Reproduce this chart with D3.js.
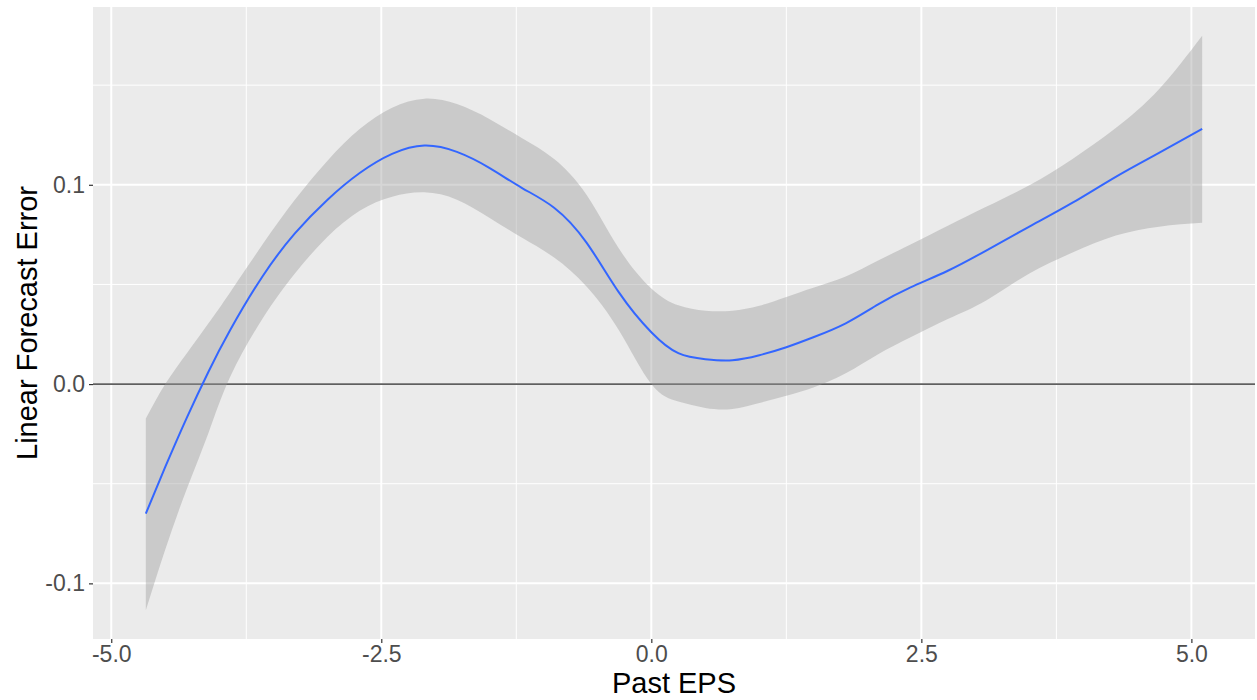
<!DOCTYPE html>
<html>
<head>
<meta charset="utf-8">
<script src="https://cdn.jsdelivr.net/npm/d3@7"></script>
<style>
  html, body { margin: 0; padding: 0; background: #ffffff; }
  svg { display: block; font-family: "Liberation Sans", Arial, Helvetica, sans-serif; }
</style>
</head>
<body>
<svg id="chart" width="1257" height="700"></svg>
<script>
// Smoothed fit of forecast error against past EPS, with its confidence band
const pastEps = [-4.68, -4.5, -4.3, -4.1, -3.9, -3.6, -3.3, -3.0, -2.7, -2.4, -2.1, -1.8, -1.5, -1.2,
                 -0.9, -0.6, -0.3, 0.0, 0.25, 0.5, 0.75, 1.0, 1.25, 1.5, 1.8, 2.1, 2.4, 2.75, 3.1,
                 3.5, 3.9, 4.3, 4.7, 5.1];
const fitValues = [-0.065, -0.0416, -0.0168, 0.0062, 0.027, 0.054, 0.0756, 0.0924, 0.1059, 0.1155,
                   0.1197, 0.1165, 0.1085, 0.0985, 0.0885, 0.071, 0.046, 0.026, 0.0155, 0.0125,
                   0.012, 0.0145, 0.0185, 0.0235, 0.0305, 0.040, 0.0485, 0.057, 0.067, 0.079,
                   0.091, 0.104, 0.116, 0.128];
const lowerBand = [-0.1135, -0.083, -0.0525, -0.0245, 0.0035, 0.0328, 0.0555, 0.0738, 0.087, 0.094,
                   0.0962, 0.0925, 0.0835, 0.0735, 0.0635, 0.049, 0.027, 0.0, -0.0088, -0.012,
                   -0.0125, -0.0095, -0.0058, -0.0017, 0.0054, 0.015, 0.0235, 0.0328, 0.042,
                   0.0555, 0.066, 0.0745, 0.079, 0.0809];
const upperBand = [-0.0173, 0.0, 0.0155, 0.0305, 0.046, 0.070, 0.0925, 0.112, 0.128, 0.1387,
                   0.1432, 0.1405, 0.133, 0.1235, 0.113, 0.095, 0.068, 0.048, 0.0395, 0.0368,
                   0.0368, 0.0393, 0.0437, 0.0484, 0.054, 0.062, 0.070, 0.0796, 0.089, 0.0998,
                   0.113, 0.1285, 0.148, 0.1748];

const xTicks = [-5.0, -2.5, 0.0, 2.5, 5.0];
const xMinor = [-3.75, -1.25, 1.25, 3.75];
const yTicks = [-0.1, 0.0, 0.1];
const yMinor = [-0.05, 0.05, 0.15];

const xTitle = "Past EPS";
const yTitle = "Linear Forecast Error";

const rows = pastEps.map((x, i) => ({ x, y: fitValues[i], lo: lowerBand[i], hi: upperBand[i] }));

const panel = { left: 93, right: 1255, top: 7, bottom: 639 };

// 5% expansion around the data range on both axes
const xExt = d3.extent(pastEps);
const xPad = (xExt[1] - xExt[0]) * 0.05;
const yMin = d3.min(lowerBand), yMax = d3.max(upperBand);
const yPad = (yMax - yMin) * 0.05;

const x = d3.scaleLinear().domain([xExt[0] - xPad, xExt[1] + xPad]).range([panel.left, panel.right]);
const y = d3.scaleLinear().domain([yMin - yPad, yMax + yPad]).range([panel.bottom, panel.top]);

const svg = d3.select("#chart");

// panel background
svg.append("rect")
  .attr("x", panel.left).attr("y", panel.top)
  .attr("width", panel.right - panel.left).attr("height", panel.bottom - panel.top)
  .attr("fill", "#EBEBEB");

const grid = svg.append("g");
// minor grid
grid.selectAll("line.vminor").data(xMinor).join("line")
  .attr("x1", d => x(d)).attr("x2", d => x(d))
  .attr("y1", panel.top).attr("y2", panel.bottom)
  .attr("stroke", "#ffffff").attr("stroke-width", 1);
grid.selectAll("line.hminor").data(yMinor).join("line")
  .attr("y1", d => y(d)).attr("y2", d => y(d))
  .attr("x1", panel.left).attr("x2", panel.right)
  .attr("stroke", "#ffffff").attr("stroke-width", 1);
// major grid
grid.selectAll("line.vmajor").data(xTicks).join("line")
  .attr("x1", d => x(d)).attr("x2", d => x(d))
  .attr("y1", panel.top).attr("y2", panel.bottom)
  .attr("stroke", "#ffffff").attr("stroke-width", 2);
grid.selectAll("line.hmajor").data(yTicks).join("line")
  .attr("y1", d => y(d)).attr("y2", d => y(d))
  .attr("x1", panel.left).attr("x2", panel.right)
  .attr("stroke", "#ffffff").attr("stroke-width", 2);

// zero reference line
svg.append("line")
  .attr("x1", panel.left).attr("x2", panel.right)
  .attr("y1", y(0)).attr("y2", y(0))
  .attr("stroke", "#5f5f5f").attr("stroke-width", 1.6);

// confidence band
const band = d3.area()
  .x(d => x(d.x)).y0(d => y(d.lo)).y1(d => y(d.hi))
  .curve(d3.curveNatural);
svg.append("path").datum(rows)
  .attr("d", band)
  .attr("fill", "#999999").attr("fill-opacity", 0.4);

// fitted line
const line = d3.line()
  .x(d => x(d.x)).y(d => y(d.y))
  .curve(d3.curveNatural);
svg.append("path").datum(rows)
  .attr("d", line)
  .attr("fill", "none").attr("stroke", "#3366FF").attr("stroke-width", 2);

// axes (plain hyphen-minus in the labels)
const fmt = v => d3.format(".1f")(v).replace("\u2212", "-");
const xAxis = svg.append("g")
  .attr("transform", `translate(0,${panel.bottom})`)
  .call(d3.axisBottom(x).tickValues(xTicks).tickFormat(fmt).tickSize(4).tickPadding(3));
const yAxis = svg.append("g")
  .attr("transform", `translate(${panel.left},0)`)
  .call(d3.axisLeft(y).tickValues(yTicks).tickFormat(fmt).tickSize(4).tickPadding(4));

[xAxis, yAxis].forEach(g => {
  g.select(".domain").remove();
  g.selectAll(".tick line").attr("stroke", "#333333").attr("stroke-width", 1.2);
  g.selectAll(".tick text")
    .attr("fill", "#4D4D4D")
    .style("font-size", "23px")
    .style("font-family", '"Liberation Sans", Arial, Helvetica, sans-serif');
});

// axis titles
svg.append("text")
  .attr("x", (panel.left + panel.right) / 2).attr("y", 693)
  .attr("text-anchor", "middle")
  .attr("fill", "#000000")
  .style("font-size", "29px")
  .text(xTitle);
svg.append("text")
  .attr("transform", `translate(37,${(panel.top + panel.bottom) / 2}) rotate(-90)`)
  .attr("text-anchor", "middle")
  .attr("fill", "#000000")
  .style("font-size", "29px")
  .text(yTitle);
</script>
</body>
</html>
